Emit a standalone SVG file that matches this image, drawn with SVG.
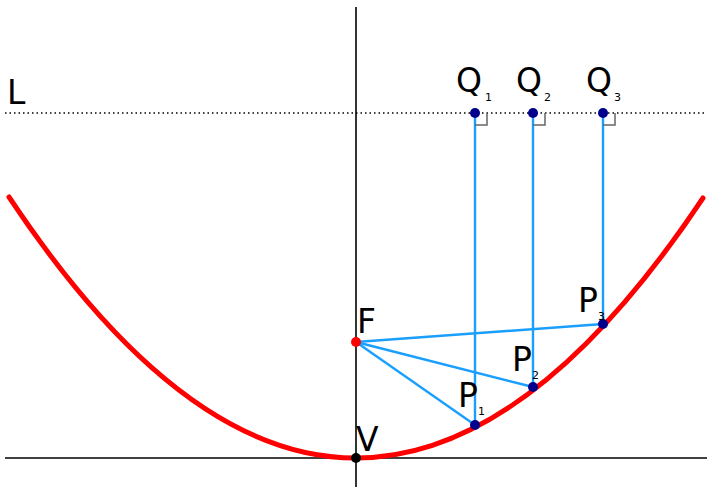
<svg xmlns="http://www.w3.org/2000/svg" width="707" height="487" viewBox="0 0 707 487">
<style>
.t{font-family:"DejaVu Sans",sans-serif;fill:#000}
.big{font-size:33px}
.sub{font-size:11px}
.ax{stroke:#000;stroke-width:1.6;fill:none}
.bl{stroke:#1a9fff;stroke-width:2.4;fill:none}
.ra{stroke:#666;stroke-width:1.5;fill:none}
.dot{fill:#00008b}
</style>
<rect width="707" height="487" fill="#fff"/>
<g id="axes">
<line class="ax" x1="5" y1="458" x2="707" y2="458"/>
<line class="ax" x1="356" y1="7" x2="356" y2="487"/>
<line x1="5" y1="113" x2="707" y2="113" stroke="#000" stroke-width="1.5" stroke-dasharray="1.5,3"/>
</g>
<g id="parabola">
<path d="M9,197 Q182.5,458 356,458 Q529.5,458 703,198" fill="none" stroke="#ff0000" stroke-width="5" stroke-linecap="round"/>
</g>
<g id="connectors">
<line class="bl" x1="475" y1="113" x2="475" y2="425"/>
<line class="bl" x1="533" y1="113" x2="533" y2="387"/>
<line class="bl" x1="603" y1="113" x2="603" y2="324"/>
<line class="bl" x1="356" y1="342" x2="475" y2="425"/>
<line class="bl" x1="356" y1="342" x2="533" y2="387"/>
<line class="bl" x1="356" y1="342" x2="603" y2="324"/>
<path class="ra" d="M475,125 H487 V113"/>
<path class="ra" d="M533,125 H545 V113"/>
<path class="ra" d="M603,125 H615 V113"/>
</g>
<g id="L"><text class="t big" x="7" y="104">L</text></g>
<g id="Q1"><circle class="dot" cx="475" cy="113" r="5"/><text class="t big" x="456" y="92">Q</text><text class="t sub" x="485" y="101">1</text></g>
<g id="Q2"><circle class="dot" cx="533" cy="113" r="5"/><text class="t big" x="516" y="92">Q</text><text class="t sub" x="544" y="101">2</text></g>
<g id="Q3"><circle class="dot" cx="603" cy="113" r="5"/><text class="t big" x="586" y="92">Q</text><text class="t sub" x="614" y="101">3</text></g>
<g id="F"><circle cx="356" cy="342" r="5" fill="#ff0000"/><text class="t big" x="357" y="333">F</text></g>
<g id="V"><circle cx="356" cy="458" r="5" fill="#000"/><text class="t big" x="356" y="451">V</text></g>
<g id="P1"><circle class="dot" cx="475" cy="425" r="5"/><text class="t big" x="458" y="407">P</text><text class="t sub" x="478" y="415">1</text></g>
<g id="P2"><circle class="dot" cx="533" cy="387" r="5"/><text class="t big" x="512" y="371">P</text><text class="t sub" x="532" y="379">2</text></g>
<g id="P3"><circle class="dot" cx="603" cy="324" r="5"/><text class="t big" x="578" y="312">P</text><text class="t sub" x="598" y="320">3</text></g>
</svg>
